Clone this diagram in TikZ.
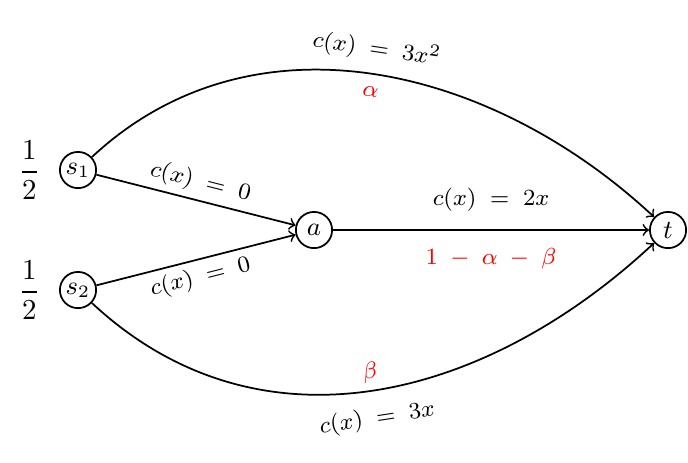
\documentclass[tikz,border=0pt]{standalone}
\usepackage{amsmath, amssymb}
\usepackage{xcolor}
\usepackage{tikz}
\usetikzlibrary{arrows, positioning}

\begin{document}
\begin{tikzpicture}[
    x=0.345pt, y=-0.345pt,
    vertex/.style={circle, draw, semithick, font=\small, inner sep=0.5pt, minimum size=12.5pt},
    flow/.style={semithick, ->},
    cost/.style={font=\footnotesize, inner sep=2pt},
    share/.style={font=\footnotesize, text=red, inner sep=2pt}
]
\useasboundingbox (0,0) rectangle (688,462);

% Sources
\node[vertex] (s1) at (78,170) {$s_1$};
\node[vertex] (s2) at (78,290) {$s_2$};
\node[left=3pt of s1] (d1) {$\dfrac{1}{2}$};
\node[left=3pt of s2] (d2) {$\dfrac{1}{2}$};

% Middle and sink
\node[vertex] (a) at (314,230) {$a$};
\node[vertex] (t) at (668,230) {$t$};

% Upper path
\draw[flow] (s1) to[out=43, in=137, looseness=1.0]
    node[cost, midway, above, sloped, yshift=2pt] (c1) {$c(x)\;=\;3x^2$}
    node[share, midway, below, sloped, yshift=-2pt] (p1) {$\alpha$} (t);

% Middle path
\draw[flow] (s1) -- node[cost, midway, above, sloped] (c2) {$c(x)\;=\;0$} (a);
\draw[flow] (s2) -- node[cost, midway, below, sloped] (c3) {$c(x)\;=\;0$} (a);
\draw[flow] (a) -- node[cost, midway, above, yshift=4pt] (c4) {$c(x)\;=\;2x$}
    node[share, midway, below, yshift=-4pt] (p2) {$1\;-\;\alpha\;-\;\beta$} (t);

% Lower path
\draw[flow] (s2) to[out=-43, in=-137, looseness=1.04]
    node[share, midway, above, sloped, yshift=0.5pt] (p3) {$\beta$}
    node[cost, midway, below, sloped, yshift=-3.5pt] (c5) {$c(x)\;=\;3x$} (t);

\end{tikzpicture}
\end{document}
